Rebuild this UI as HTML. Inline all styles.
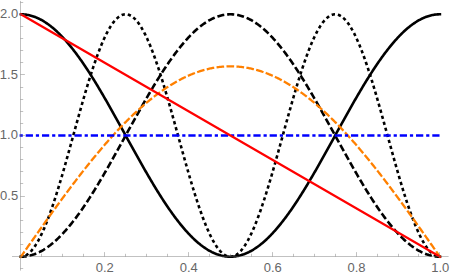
<!DOCTYPE html>
<html><head><meta charset="utf-8"><title>Plot</title>
<style>
html,body{margin:0;padding:0;background:#fff;}
body{width:450px;height:277px;overflow:hidden;}
svg{display:block;}
</style></head><body>
<svg role="img" aria-label="Plot of six curves on the unit interval" width="450" height="277" viewBox="0 0 450 277">
<rect width="450" height="277" fill="#fff"/>
<g fill="#666" font-family="'Liberation Sans', sans-serif" font-size="13">
<text x="95.71" y="271.53">0.2</text>
<text x="179.71" y="271.53">0.4</text>
<text x="263.71" y="271.53">0.6</text>
<text x="347.46" y="271.53">0.8</text>
<text x="431.21" y="271.53">1.0</text>
<text x="0.12" y="199.65">0.5</text>
<text x="-0.18" y="139.05">1.0</text>
<text x="-0.18" y="78.95">1.5</text>
<text x="0.12" y="17.85">2.0</text>
</g>
<path d="M20.90 14.30L21.74 14.31L22.58 14.34L23.41 14.39L24.25 14.45L25.09 14.54L25.93 14.64L26.77 14.77L27.60 14.91L28.44 15.07L29.28 15.26L30.12 15.46L30.96 15.68L31.79 15.91L32.63 16.17L33.47 16.45L34.31 16.74L35.15 17.06L35.98 17.39L36.82 17.74L37.66 18.11L38.50 18.50L39.34 18.90L40.17 19.33L41.01 19.77L41.85 20.23L42.69 20.71L43.53 21.21L44.36 21.73L45.20 22.26L46.04 22.81L46.88 23.38L47.72 23.97L48.55 24.57L49.39 25.20L50.23 25.83L51.07 26.49L51.91 27.17L52.74 27.86L53.58 28.57L54.42 29.29L55.26 30.03L56.10 30.79L56.93 31.57L57.77 32.36L58.61 33.17L59.45 33.99L60.29 34.83L61.12 35.69L61.96 36.56L62.80 37.45L63.64 38.35L64.48 39.27L65.31 40.20L66.15 41.15L66.99 42.11L67.83 43.09L68.67 44.08L69.50 45.09L70.34 46.11L71.18 47.15L72.02 48.20L72.86 49.26L73.69 50.34L74.53 51.43L75.37 52.53L76.21 53.65L77.05 54.78L77.88 55.92L78.72 57.08L79.56 58.24L80.40 59.42L81.24 60.62L82.07 61.82L82.91 63.03L83.75 64.26L84.59 65.50L85.43 66.75L86.26 68.01L87.10 69.28L87.94 70.56L88.78 71.85L89.62 73.15L90.45 74.46L91.29 75.78L92.13 77.11L92.97 78.45L93.81 79.80L94.64 81.16L95.48 82.52L96.32 83.90L97.16 85.28L98.00 86.67L98.83 88.07L99.67 89.47L100.51 90.88L101.35 92.30L102.19 93.73L103.02 95.16L103.86 96.60L104.70 98.05L105.54 99.50L106.38 100.96L107.21 102.42L108.05 103.89L108.89 105.36L109.73 106.84L110.57 108.32L111.40 109.80L112.24 111.30L113.08 112.79L113.92 114.29L114.76 115.79L115.59 117.29L116.43 118.80L117.27 120.31L118.11 121.82L118.95 123.34L119.78 124.85L120.62 126.37L121.46 127.89L122.30 129.41L123.14 130.93L123.97 132.45L124.81 133.98L125.65 135.50L126.49 137.02L127.33 138.55L128.16 140.07L129.00 141.59L129.84 143.11L130.68 144.63L131.52 146.15L132.35 147.66L133.19 149.18L134.03 150.69L134.87 152.20L135.71 153.71L136.54 155.21L137.38 156.71L138.22 158.21L139.06 159.70L139.90 161.20L140.73 162.68L141.57 164.16L142.41 165.64L143.25 167.11L144.09 168.58L144.92 170.04L145.76 171.50L146.60 172.95L147.44 174.40L148.28 175.84L149.11 177.27L149.95 178.70L150.79 180.12L151.63 181.53L152.47 182.93L153.30 184.33L154.14 185.72L154.98 187.10L155.82 188.48L156.66 189.84L157.49 191.20L158.33 192.55L159.17 193.89L160.01 195.22L160.85 196.54L161.68 197.85L162.52 199.15L163.36 200.44L164.20 201.72L165.04 202.99L165.87 204.25L166.71 205.50L167.55 206.74L168.39 207.97L169.23 209.18L170.06 210.38L170.90 211.58L171.74 212.76L172.58 213.92L173.42 215.08L174.25 216.22L175.09 217.35L175.93 218.47L176.77 219.57L177.61 220.66L178.44 221.74L179.28 222.80L180.12 223.85L180.96 224.89L181.80 225.91L182.63 226.92L183.47 227.91L184.31 228.89L185.15 229.85L185.99 230.80L186.82 231.73L187.66 232.65L188.50 233.55L189.34 234.44L190.18 235.31L191.01 236.17L191.85 237.01L192.69 237.83L193.53 238.64L194.37 239.43L195.20 240.21L196.04 240.97L196.88 241.71L197.72 242.43L198.56 243.14L199.39 243.83L200.23 244.51L201.07 245.17L201.91 245.80L202.75 246.43L203.58 247.03L204.42 247.62L205.26 248.19L206.10 248.74L206.94 249.27L207.77 249.79L208.61 250.29L209.45 250.77L210.29 251.23L211.13 251.67L211.96 252.10L212.80 252.50L213.64 252.89L214.48 253.26L215.32 253.61L216.15 253.94L216.99 254.26L217.83 254.55L218.67 254.83L219.51 255.09L220.34 255.32L221.18 255.54L222.02 255.74L222.86 255.93L223.70 256.09L224.53 256.23L225.37 256.36L226.21 256.46L227.05 256.55L227.89 256.61L228.72 256.66L229.56 256.69L230.40 256.70L231.24 256.69L232.08 256.66L232.91 256.61L233.75 256.55L234.59 256.46L235.43 256.36L236.27 256.23L237.10 256.09L237.94 255.93L238.78 255.74L239.62 255.54L240.46 255.32L241.29 255.09L242.13 254.83L242.97 254.55L243.81 254.26L244.65 253.94L245.48 253.61L246.32 253.26L247.16 252.89L248.00 252.50L248.84 252.10L249.67 251.67L250.51 251.23L251.35 250.77L252.19 250.29L253.03 249.79L253.86 249.27L254.70 248.74L255.54 248.19L256.38 247.62L257.22 247.03L258.05 246.43L258.89 245.80L259.73 245.17L260.57 244.51L261.41 243.83L262.24 243.14L263.08 242.43L263.92 241.71L264.76 240.97L265.60 240.21L266.43 239.43L267.27 238.64L268.11 237.83L268.95 237.01L269.79 236.17L270.62 235.31L271.46 234.44L272.30 233.55L273.14 232.65L273.98 231.73L274.81 230.80L275.65 229.85L276.49 228.89L277.33 227.91L278.17 226.92L279.00 225.91L279.84 224.89L280.68 223.85L281.52 222.80L282.36 221.74L283.19 220.66L284.03 219.57L284.87 218.47L285.71 217.35L286.55 216.22L287.38 215.08L288.22 213.92L289.06 212.76L289.90 211.58L290.74 210.38L291.57 209.18L292.41 207.97L293.25 206.74L294.09 205.50L294.93 204.25L295.76 202.99L296.60 201.72L297.44 200.44L298.28 199.15L299.12 197.85L299.95 196.54L300.79 195.22L301.63 193.89L302.47 192.55L303.31 191.20L304.14 189.84L304.98 188.48L305.82 187.10L306.66 185.72L307.50 184.33L308.33 182.93L309.17 181.53L310.01 180.12L310.85 178.70L311.69 177.27L312.52 175.84L313.36 174.40L314.20 172.95L315.04 171.50L315.88 170.04L316.71 168.58L317.55 167.11L318.39 165.64L319.23 164.16L320.07 162.68L320.90 161.20L321.74 159.70L322.58 158.21L323.42 156.71L324.26 155.21L325.09 153.71L325.93 152.20L326.77 150.69L327.61 149.18L328.45 147.66L329.28 146.15L330.12 144.63L330.96 143.11L331.80 141.59L332.64 140.07L333.47 138.55L334.31 137.02L335.15 135.50L335.99 133.98L336.83 132.45L337.66 130.93L338.50 129.41L339.34 127.89L340.18 126.37L341.02 124.85L341.85 123.34L342.69 121.82L343.53 120.31L344.37 118.80L345.21 117.29L346.04 115.79L346.88 114.29L347.72 112.79L348.56 111.30L349.40 109.80L350.23 108.32L351.07 106.84L351.91 105.36L352.75 103.89L353.59 102.42L354.42 100.96L355.26 99.50L356.10 98.05L356.94 96.60L357.78 95.16L358.61 93.73L359.45 92.30L360.29 90.88L361.13 89.47L361.97 88.07L362.80 86.67L363.64 85.28L364.48 83.90L365.32 82.52L366.16 81.16L366.99 79.80L367.83 78.45L368.67 77.11L369.51 75.78L370.35 74.46L371.18 73.15L372.02 71.85L372.86 70.56L373.70 69.28L374.54 68.01L375.37 66.75L376.21 65.50L377.05 64.26L377.89 63.03L378.73 61.82L379.56 60.62L380.40 59.42L381.24 58.24L382.08 57.08L382.92 55.92L383.75 54.78L384.59 53.65L385.43 52.53L386.27 51.43L387.11 50.34L387.94 49.26L388.78 48.20L389.62 47.15L390.46 46.11L391.30 45.09L392.13 44.08L392.97 43.09L393.81 42.11L394.65 41.15L395.49 40.20L396.32 39.27L397.16 38.35L398.00 37.45L398.84 36.56L399.68 35.69L400.51 34.83L401.35 33.99L402.19 33.17L403.03 32.36L403.87 31.57L404.70 30.79L405.54 30.03L406.38 29.29L407.22 28.57L408.06 27.86L408.89 27.17L409.73 26.49L410.57 25.83L411.41 25.20L412.25 24.57L413.08 23.97L413.92 23.38L414.76 22.81L415.60 22.26L416.44 21.73L417.27 21.21L418.11 20.71L418.95 20.23L419.79 19.77L420.63 19.33L421.46 18.90L422.30 18.50L423.14 18.11L423.98 17.74L424.82 17.39L425.65 17.06L426.49 16.74L427.33 16.45L428.17 16.17L429.01 15.91L429.84 15.68L430.68 15.46L431.52 15.26L432.36 15.07L433.20 14.91L434.03 14.77L434.87 14.64L435.71 14.54L436.55 14.45L437.39 14.39L438.22 14.34L439.06 14.31L439.90 14.30" stroke="#000" stroke-width="2.6" fill="none" stroke-linecap="square" stroke-linejoin="round"/>
<path d="M19.60 256.71L20.90 256.70L21.74 256.69L22.58 256.66L23.41 256.61L24.25 256.55L25.09 256.46L25.93 256.36L26.77 256.23L27.60 256.09L28.44 255.93L29.28 255.74L30.12 255.54L30.96 255.32L31.79 255.09L32.63 254.83L33.47 254.55L34.31 254.26L35.15 253.94L35.98 253.61L36.82 253.26L37.66 252.89L38.50 252.50L39.34 252.10L40.17 251.67L41.01 251.23L41.85 250.77L42.69 250.29L43.53 249.79L44.36 249.27L45.20 248.74L46.04 248.19L46.88 247.62L47.72 247.03L48.55 246.43L49.39 245.80L50.23 245.17L51.07 244.51L51.91 243.83L52.74 243.14L53.58 242.43L54.42 241.71L55.26 240.97L56.10 240.21L56.93 239.43L57.77 238.64L58.61 237.83L59.45 237.01L60.29 236.17L61.12 235.31L61.96 234.44L62.80 233.55L63.64 232.65L64.48 231.73L65.31 230.80L66.15 229.85L66.99 228.89L67.83 227.91L68.67 226.92L69.50 225.91L70.34 224.89L71.18 223.85L72.02 222.80L72.86 221.74L73.69 220.66L74.53 219.57L75.37 218.47L76.21 217.35L77.05 216.22L77.88 215.08L78.72 213.92L79.56 212.76L80.40 211.58L81.24 210.38L82.07 209.18L82.91 207.97L83.75 206.74L84.59 205.50L85.43 204.25L86.26 202.99L87.10 201.72L87.94 200.44L88.78 199.15L89.62 197.85L90.45 196.54L91.29 195.22L92.13 193.89L92.97 192.55L93.81 191.20L94.64 189.84L95.48 188.48L96.32 187.10L97.16 185.72L98.00 184.33L98.83 182.93L99.67 181.53L100.51 180.12L101.35 178.70L102.19 177.27L103.02 175.84L103.86 174.40L104.70 172.95L105.54 171.50L106.38 170.04L107.21 168.58L108.05 167.11L108.89 165.64L109.73 164.16L110.57 162.68L111.40 161.20L112.24 159.70L113.08 158.21L113.92 156.71L114.76 155.21L115.59 153.71L116.43 152.20L117.27 150.69L118.11 149.18L118.95 147.66L119.78 146.15L120.62 144.63L121.46 143.11L122.30 141.59L123.14 140.07L123.97 138.55L124.81 137.02L125.65 135.50L126.49 133.98L127.33 132.45L128.16 130.93L129.00 129.41L129.84 127.89L130.68 126.37L131.52 124.85L132.35 123.34L133.19 121.82L134.03 120.31L134.87 118.80L135.71 117.29L136.54 115.79L137.38 114.29L138.22 112.79L139.06 111.30L139.90 109.80L140.73 108.32L141.57 106.84L142.41 105.36L143.25 103.89L144.09 102.42L144.92 100.96L145.76 99.50L146.60 98.05L147.44 96.60L148.28 95.16L149.11 93.73L149.95 92.30L150.79 90.88L151.63 89.47L152.47 88.07L153.30 86.67L154.14 85.28L154.98 83.90L155.82 82.52L156.66 81.16L157.49 79.80L158.33 78.45L159.17 77.11L160.01 75.78L160.85 74.46L161.68 73.15L162.52 71.85L163.36 70.56L164.20 69.28L165.04 68.01L165.87 66.75L166.71 65.50L167.55 64.26L168.39 63.03L169.23 61.82L170.06 60.62L170.90 59.42L171.74 58.24L172.58 57.08L173.42 55.92L174.25 54.78L175.09 53.65L175.93 52.53L176.77 51.43L177.61 50.34L178.44 49.26L179.28 48.20L180.12 47.15L180.96 46.11L181.80 45.09L182.63 44.08L183.47 43.09L184.31 42.11L185.15 41.15L185.99 40.20L186.82 39.27L187.66 38.35L188.50 37.45L189.34 36.56L190.18 35.69L191.01 34.83L191.85 33.99L192.69 33.17L193.53 32.36L194.37 31.57L195.20 30.79L196.04 30.03L196.88 29.29L197.72 28.57L198.56 27.86L199.39 27.17L200.23 26.49L201.07 25.83L201.91 25.20L202.75 24.57L203.58 23.97L204.42 23.38L205.26 22.81L206.10 22.26L206.94 21.73L207.77 21.21L208.61 20.71L209.45 20.23L210.29 19.77L211.13 19.33L211.96 18.90L212.80 18.50L213.64 18.11L214.48 17.74L215.32 17.39L216.15 17.06L216.99 16.74L217.83 16.45L218.67 16.17L219.51 15.91L220.34 15.68L221.18 15.46L222.02 15.26L222.86 15.07L223.70 14.91L224.53 14.77L225.37 14.64L226.21 14.54L227.05 14.45L227.89 14.39L228.72 14.34L229.56 14.31L230.40 14.30L231.24 14.31L232.08 14.34L232.91 14.39L233.75 14.45L234.59 14.54L235.43 14.64L236.27 14.77L237.10 14.91L237.94 15.07L238.78 15.26L239.62 15.46L240.46 15.68L241.29 15.91L242.13 16.17L242.97 16.45L243.81 16.74L244.65 17.06L245.48 17.39L246.32 17.74L247.16 18.11L248.00 18.50L248.84 18.90L249.67 19.33L250.51 19.77L251.35 20.23L252.19 20.71L253.03 21.21L253.86 21.73L254.70 22.26L255.54 22.81L256.38 23.38L257.22 23.97L258.05 24.57L258.89 25.20L259.73 25.83L260.57 26.49L261.41 27.17L262.24 27.86L263.08 28.57L263.92 29.29L264.76 30.03L265.60 30.79L266.43 31.57L267.27 32.36L268.11 33.17L268.95 33.99L269.79 34.83L270.62 35.69L271.46 36.56L272.30 37.45L273.14 38.35L273.98 39.27L274.81 40.20L275.65 41.15L276.49 42.11L277.33 43.09L278.17 44.08L279.00 45.09L279.84 46.11L280.68 47.15L281.52 48.20L282.36 49.26L283.19 50.34L284.03 51.43L284.87 52.53L285.71 53.65L286.55 54.78L287.38 55.92L288.22 57.08L289.06 58.24L289.90 59.42L290.74 60.62L291.57 61.82L292.41 63.03L293.25 64.26L294.09 65.50L294.93 66.75L295.76 68.01L296.60 69.28L297.44 70.56L298.28 71.85L299.12 73.15L299.95 74.46L300.79 75.78L301.63 77.11L302.47 78.45L303.31 79.80L304.14 81.16L304.98 82.52L305.82 83.90L306.66 85.28L307.50 86.67L308.33 88.07L309.17 89.47L310.01 90.88L310.85 92.30L311.69 93.73L312.52 95.16L313.36 96.60L314.20 98.05L315.04 99.50L315.88 100.96L316.71 102.42L317.55 103.89L318.39 105.36L319.23 106.84L320.07 108.32L320.90 109.80L321.74 111.30L322.58 112.79L323.42 114.29L324.26 115.79L325.09 117.29L325.93 118.80L326.77 120.31L327.61 121.82L328.45 123.34L329.28 124.85L330.12 126.37L330.96 127.89L331.80 129.41L332.64 130.93L333.47 132.45L334.31 133.98L335.15 135.50L335.99 137.02L336.83 138.55L337.66 140.07L338.50 141.59L339.34 143.11L340.18 144.63L341.02 146.15L341.85 147.66L342.69 149.18L343.53 150.69L344.37 152.20L345.21 153.71L346.04 155.21L346.88 156.71L347.72 158.21L348.56 159.70L349.40 161.20L350.23 162.68L351.07 164.16L351.91 165.64L352.75 167.11L353.59 168.58L354.42 170.04L355.26 171.50L356.10 172.95L356.94 174.40L357.78 175.84L358.61 177.27L359.45 178.70L360.29 180.12L361.13 181.53L361.97 182.93L362.80 184.33L363.64 185.72L364.48 187.10L365.32 188.48L366.16 189.84L366.99 191.20L367.83 192.55L368.67 193.89L369.51 195.22L370.35 196.54L371.18 197.85L372.02 199.15L372.86 200.44L373.70 201.72L374.54 202.99L375.37 204.25L376.21 205.50L377.05 206.74L377.89 207.97L378.73 209.18L379.56 210.38L380.40 211.58L381.24 212.76L382.08 213.92L382.92 215.08L383.75 216.22L384.59 217.35L385.43 218.47L386.27 219.57L387.11 220.66L387.94 221.74L388.78 222.80L389.62 223.85L390.46 224.89L391.30 225.91L392.13 226.92L392.97 227.91L393.81 228.89L394.65 229.85L395.49 230.80L396.32 231.73L397.16 232.65L398.00 233.55L398.84 234.44L399.68 235.31L400.51 236.17L401.35 237.01L402.19 237.83L403.03 238.64L403.87 239.43L404.70 240.21L405.54 240.97L406.38 241.71L407.22 242.43L408.06 243.14L408.89 243.83L409.73 244.51L410.57 245.17L411.41 245.80L412.25 246.43L413.08 247.03L413.92 247.62L414.76 248.19L415.60 248.74L416.44 249.27L417.27 249.79L418.11 250.29L418.95 250.77L419.79 251.23L420.63 251.67L421.46 252.10L422.30 252.50L423.14 252.89L423.98 253.26L424.82 253.61L425.65 253.94L426.49 254.26L427.33 254.55L428.17 254.83L429.01 255.09L429.84 255.32L430.68 255.54L431.52 255.74L432.36 255.93L433.20 256.09L434.03 256.23L434.87 256.36L435.71 256.46L436.55 256.55L437.39 256.61L438.22 256.66L439.06 256.69L439.90 256.70L441.20 256.71" stroke="#000" stroke-width="2.6" fill="none" stroke-dasharray="7.1 2.9"/>
<path d="M19.60 256.74L20.90 256.70L21.42 256.69L21.95 256.64L22.47 256.57L22.99 256.46L23.52 256.33L24.04 256.16L24.57 255.97L25.09 255.74L25.61 255.49L26.14 255.21L26.66 254.90L27.18 254.55L27.71 254.18L28.23 253.78L28.76 253.35L29.28 252.89L29.80 252.40L30.33 251.89L30.85 251.34L31.38 250.77L31.90 250.17L32.42 249.53L32.95 248.88L33.47 248.19L33.99 247.47L34.52 246.73L35.04 245.96L35.56 245.17L36.09 244.34L36.61 243.49L37.14 242.61L37.66 241.71L38.18 240.78L38.71 239.82L39.23 238.84L39.75 237.83L40.28 236.80L40.80 235.74L41.33 234.66L41.85 233.55L42.37 232.42L42.90 231.27L43.42 230.09L43.95 228.89L44.47 227.66L44.99 226.41L45.52 225.14L46.04 223.85L46.56 222.54L47.09 221.20L47.61 219.84L48.13 218.47L48.66 217.07L49.18 215.65L49.71 214.21L50.23 212.76L50.75 211.28L51.28 209.78L51.80 208.27L52.32 206.74L52.85 205.19L53.37 203.62L53.90 202.04L54.42 200.44L54.94 198.83L55.47 197.20L55.99 195.55L56.52 193.89L57.04 192.21L57.56 190.52L58.09 188.82L58.61 187.10L59.13 185.38L59.66 183.63L60.18 181.88L60.70 180.12L61.23 178.34L61.75 176.56L62.28 174.76L62.80 172.95L63.32 171.14L63.85 169.31L64.37 167.48L64.89 165.64L65.42 163.79L65.94 161.94L66.47 160.08L66.99 158.21L67.51 156.34L68.04 154.46L68.56 152.58L69.09 150.69L69.61 148.80L70.13 146.91L70.66 145.01L71.18 143.11L71.70 141.21L72.23 139.31L72.75 137.40L73.28 135.50L73.80 133.60L74.32 131.69L74.85 129.79L75.37 127.89L75.89 125.99L76.42 124.09L76.94 122.20L77.47 120.31L77.99 118.42L78.51 116.54L79.04 114.66L79.56 112.79L80.08 110.92L80.61 109.06L81.13 107.21L81.66 105.36L82.18 103.52L82.70 101.69L83.23 99.86L83.75 98.05L84.27 96.24L84.80 94.44L85.32 92.66L85.84 90.88L86.37 89.12L86.89 87.37L87.42 85.62L87.94 83.90L88.46 82.18L88.99 80.48L89.51 78.79L90.03 77.11L90.56 75.45L91.08 73.80L91.61 72.17L92.13 70.56L92.65 68.96L93.18 67.38L93.70 65.81L94.22 64.26L94.75 62.73L95.27 61.22L95.80 59.72L96.32 58.24L96.84 56.79L97.37 55.35L97.89 53.93L98.41 52.53L98.94 51.16L99.46 49.80L99.99 48.46L100.51 47.15L101.03 45.86L101.56 44.59L102.08 43.34L102.60 42.11L103.13 40.91L103.65 39.73L104.18 38.58L104.70 37.45L105.22 36.34L105.75 35.26L106.27 34.20L106.79 33.17L107.32 32.16L107.84 31.18L108.37 30.22L108.89 29.29L109.41 28.39L109.94 27.51L110.46 26.66L110.98 25.83L111.51 25.04L112.03 24.27L112.56 23.53L113.08 22.81L113.60 22.12L114.13 21.47L114.65 20.83L115.18 20.23L115.70 19.66L116.22 19.11L116.75 18.60L117.27 18.11L117.79 17.65L118.32 17.22L118.84 16.82L119.36 16.45L119.89 16.10L120.41 15.79L120.94 15.51L121.46 15.26L121.98 15.03L122.51 14.84L123.03 14.67L123.56 14.54L124.08 14.43L124.60 14.36L125.13 14.31L125.65 14.30L126.17 14.31L126.70 14.36L127.22 14.43L127.75 14.54L128.27 14.67L128.79 14.84L129.32 15.03L129.84 15.26L130.36 15.51L130.89 15.79L131.41 16.10L131.94 16.45L132.46 16.82L132.98 17.22L133.51 17.65L134.03 18.11L134.55 18.60L135.08 19.11L135.60 19.66L136.12 20.23L136.65 20.83L137.17 21.47L137.70 22.12L138.22 22.81L138.74 23.53L139.27 24.27L139.79 25.04L140.31 25.83L140.84 26.66L141.36 27.51L141.89 28.39L142.41 29.29L142.93 30.22L143.46 31.18L143.98 32.16L144.50 33.17L145.03 34.20L145.55 35.26L146.08 36.34L146.60 37.45L147.12 38.58L147.65 39.73L148.17 40.91L148.69 42.11L149.22 43.34L149.74 44.59L150.27 45.86L150.79 47.15L151.31 48.46L151.84 49.80L152.36 51.16L152.89 52.53L153.41 53.93L153.93 55.35L154.46 56.79L154.98 58.24L155.50 59.72L156.03 61.22L156.55 62.73L157.08 64.26L157.60 65.81L158.12 67.38L158.65 68.96L159.17 70.56L159.69 72.17L160.22 73.80L160.74 75.45L161.27 77.11L161.79 78.79L162.31 80.48L162.84 82.18L163.36 83.90L163.88 85.62L164.41 87.37L164.93 89.12L165.45 90.88L165.98 92.66L166.50 94.44L167.03 96.24L167.55 98.05L168.07 99.86L168.60 101.69L169.12 103.52L169.65 105.36L170.17 107.21L170.69 109.06L171.22 110.92L171.74 112.79L172.26 114.66L172.79 116.54L173.31 118.42L173.84 120.31L174.36 122.20L174.88 124.09L175.41 125.99L175.93 127.89L176.45 129.79L176.98 131.69L177.50 133.60L178.03 135.50L178.55 137.40L179.07 139.31L179.60 141.21L180.12 143.11L180.64 145.01L181.17 146.91L181.69 148.80L182.22 150.69L182.74 152.58L183.26 154.46L183.79 156.34L184.31 158.21L184.83 160.08L185.36 161.94L185.88 163.79L186.41 165.64L186.93 167.48L187.45 169.31L187.98 171.14L188.50 172.95L189.02 174.76L189.55 176.56L190.07 178.34L190.60 180.12L191.12 181.88L191.64 183.63L192.17 185.38L192.69 187.10L193.21 188.82L193.74 190.52L194.26 192.21L194.78 193.89L195.31 195.55L195.83 197.20L196.36 198.83L196.88 200.44L197.40 202.04L197.93 203.62L198.45 205.19L198.97 206.74L199.50 208.27L200.02 209.78L200.55 211.28L201.07 212.76L201.59 214.21L202.12 215.65L202.64 217.07L203.16 218.47L203.69 219.84L204.21 221.20L204.74 222.54L205.26 223.85L205.78 225.14L206.31 226.41L206.83 227.66L207.36 228.89L207.88 230.09L208.40 231.27L208.93 232.42L209.45 233.55L209.97 234.66L210.50 235.74L211.02 236.80L211.55 237.83L212.07 238.84L212.59 239.82L213.12 240.78L213.64 241.71L214.16 242.61L214.69 243.49L215.21 244.34L215.74 245.17L216.26 245.96L216.78 246.73L217.31 247.47L217.83 248.19L218.35 248.88L218.88 249.53L219.40 250.17L219.92 250.77L220.45 251.34L220.97 251.89L221.50 252.40L222.02 252.89L222.54 253.35L223.07 253.78L223.59 254.18L224.12 254.55L224.64 254.90L225.16 255.21L225.69 255.49L226.21 255.74L226.73 255.97L227.26 256.16L227.78 256.33L228.31 256.46L228.83 256.57L229.35 256.64L229.88 256.69L230.40 256.70L230.92 256.69L231.45 256.64L231.97 256.57L232.50 256.46L233.02 256.33L233.54 256.16L234.07 255.97L234.59 255.74L235.11 255.49L235.64 255.21L236.16 254.90L236.69 254.55L237.21 254.18L237.73 253.78L238.26 253.35L238.78 252.89L239.30 252.40L239.83 251.89L240.35 251.34L240.88 250.77L241.40 250.17L241.92 249.53L242.45 248.88L242.97 248.19L243.49 247.47L244.02 246.73L244.54 245.96L245.07 245.17L245.59 244.34L246.11 243.49L246.64 242.61L247.16 241.71L247.68 240.78L248.21 239.82L248.73 238.84L249.26 237.83L249.78 236.80L250.30 235.74L250.83 234.66L251.35 233.55L251.87 232.42L252.40 231.27L252.92 230.09L253.45 228.89L253.97 227.66L254.49 226.41L255.02 225.14L255.54 223.85L256.06 222.54L256.59 221.20L257.11 219.84L257.63 218.47L258.16 217.07L258.68 215.65L259.21 214.21L259.73 212.76L260.25 211.28L260.78 209.78L261.30 208.27L261.82 206.74L262.35 205.19L262.87 203.62L263.40 202.04L263.92 200.44L264.44 198.83L264.97 197.20L265.49 195.55L266.01 193.89L266.54 192.21L267.06 190.52L267.59 188.82L268.11 187.10L268.63 185.38L269.16 183.63L269.68 181.88L270.20 180.12L270.73 178.34L271.25 176.56L271.78 174.76L272.30 172.95L272.82 171.14L273.35 169.31L273.87 167.48L274.39 165.64L274.92 163.79L275.44 161.94L275.97 160.08L276.49 158.21L277.01 156.34L277.54 154.46L278.06 152.58L278.58 150.69L279.11 148.80L279.63 146.91L280.16 145.01L280.68 143.11L281.20 141.21L281.73 139.31L282.25 137.40L282.77 135.50L283.30 133.60L283.82 131.69L284.35 129.79L284.87 127.89L285.39 125.99L285.92 124.09L286.44 122.20L286.96 120.31L287.49 118.42L288.01 116.54L288.54 114.66L289.06 112.79L289.58 110.92L290.11 109.06L290.63 107.21L291.15 105.36L291.68 103.52L292.20 101.69L292.73 99.86L293.25 98.05L293.77 96.24L294.30 94.44L294.82 92.66L295.34 90.88L295.87 89.12L296.39 87.37L296.92 85.62L297.44 83.90L297.96 82.18L298.49 80.48L299.01 78.79L299.53 77.11L300.06 75.45L300.58 73.80L301.11 72.17L301.63 70.56L302.15 68.96L302.68 67.38L303.20 65.81L303.73 64.26L304.25 62.73L304.77 61.22L305.30 59.72L305.82 58.24L306.34 56.79L306.87 55.35L307.39 53.93L307.92 52.53L308.44 51.16L308.96 49.80L309.49 48.46L310.01 47.15L310.53 45.86L311.06 44.59L311.58 43.34L312.10 42.11L312.63 40.91L313.15 39.73L313.68 38.58L314.20 37.45L314.72 36.34L315.25 35.26L315.77 34.20L316.29 33.17L316.82 32.16L317.34 31.18L317.87 30.22L318.39 29.29L318.91 28.39L319.44 27.51L319.96 26.66L320.48 25.83L321.01 25.04L321.53 24.27L322.06 23.53L322.58 22.81L323.10 22.12L323.63 21.47L324.15 20.83L324.67 20.23L325.20 19.66L325.72 19.11L326.25 18.60L326.77 18.11L327.29 17.65L327.82 17.22L328.34 16.82L328.86 16.45L329.39 16.10L329.91 15.79L330.44 15.51L330.96 15.26L331.48 15.03L332.01 14.84L332.53 14.67L333.05 14.54L333.58 14.43L334.10 14.36L334.63 14.31L335.15 14.30L335.67 14.31L336.20 14.36L336.72 14.43L337.25 14.54L337.77 14.67L338.29 14.84L338.82 15.03L339.34 15.26L339.86 15.51L340.39 15.79L340.91 16.10L341.44 16.45L341.96 16.82L342.48 17.22L343.01 17.65L343.53 18.11L344.05 18.60L344.58 19.11L345.10 19.66L345.62 20.23L346.15 20.83L346.67 21.47L347.20 22.12L347.72 22.81L348.24 23.53L348.77 24.27L349.29 25.04L349.81 25.83L350.34 26.66L350.86 27.51L351.39 28.39L351.91 29.29L352.43 30.22L352.96 31.18L353.48 32.16L354.00 33.17L354.53 34.20L355.05 35.26L355.58 36.34L356.10 37.45L356.62 38.58L357.15 39.73L357.67 40.91L358.19 42.11L358.72 43.34L359.24 44.59L359.77 45.86L360.29 47.15L360.81 48.46L361.34 49.80L361.86 51.16L362.38 52.53L362.91 53.93L363.43 55.35L363.96 56.79L364.48 58.24L365.00 59.72L365.53 61.22L366.05 62.73L366.57 64.26L367.10 65.81L367.62 67.38L368.15 68.96L368.67 70.56L369.19 72.17L369.72 73.80L370.24 75.45L370.76 77.11L371.29 78.79L371.81 80.48L372.34 82.18L372.86 83.90L373.38 85.62L373.91 87.37L374.43 89.12L374.95 90.88L375.48 92.66L376.00 94.44L376.53 96.24L377.05 98.05L377.57 99.86L378.10 101.69L378.62 103.52L379.14 105.36L379.67 107.21L380.19 109.06L380.72 110.92L381.24 112.79L381.76 114.66L382.29 116.54L382.81 118.42L383.33 120.31L383.86 122.20L384.38 124.09L384.91 125.99L385.43 127.89L385.95 129.79L386.48 131.69L387.00 133.60L387.52 135.50L388.05 137.40L388.57 139.31L389.10 141.21L389.62 143.11L390.14 145.01L390.67 146.91L391.19 148.80L391.71 150.69L392.24 152.58L392.76 154.46L393.29 156.34L393.81 158.21L394.33 160.08L394.86 161.94L395.38 163.79L395.90 165.64L396.43 167.48L396.95 169.31L397.48 171.14L398.00 172.95L398.52 174.76L399.05 176.56L399.57 178.34L400.09 180.12L400.62 181.88L401.14 183.63L401.67 185.38L402.19 187.10L402.71 188.82L403.24 190.52L403.76 192.21L404.28 193.89L404.81 195.55L405.33 197.20L405.86 198.83L406.38 200.44L406.90 202.04L407.43 203.62L407.95 205.19L408.48 206.74L409.00 208.27L409.52 209.78L410.05 211.28L410.57 212.76L411.09 214.21L411.62 215.65L412.14 217.07L412.67 218.47L413.19 219.84L413.71 221.20L414.24 222.54L414.76 223.85L415.28 225.14L415.81 226.41L416.33 227.66L416.85 228.89L417.38 230.09L417.90 231.27L418.43 232.42L418.95 233.55L419.47 234.66L420.00 235.74L420.52 236.80L421.04 237.83L421.57 238.84L422.09 239.82L422.62 240.78L423.14 241.71L423.66 242.61L424.19 243.49L424.71 244.34L425.23 245.17L425.76 245.96L426.28 246.73L426.81 247.47L427.33 248.19L427.85 248.88L428.38 249.53L428.90 250.17L429.42 250.77L429.95 251.34L430.47 251.89L431.00 252.40L431.52 252.89L432.04 253.35L432.57 253.78L433.09 254.18L433.61 254.55L434.14 254.90L434.66 255.21L435.19 255.49L435.71 255.74L436.23 255.97L436.76 256.16L437.28 256.33L437.80 256.46L438.33 256.57L438.85 256.64L439.38 256.69L439.90 256.70L441.20 256.74" stroke="#000" stroke-width="2.6" fill="none" stroke-dasharray="3.3 2.9458"/>
<path d="M20.15 257.76L20.90 256.70L21.74 255.50L22.58 254.31L23.41 253.11L24.25 251.92L25.09 250.72L25.93 249.52L26.77 248.33L27.60 247.13L28.44 245.94L29.28 244.75L30.12 243.55L30.96 242.36L31.79 241.17L32.63 239.97L33.47 238.78L34.31 237.59L35.15 236.40L35.98 235.21L36.82 234.03L37.66 232.84L38.50 231.65L39.34 230.47L40.17 229.28L41.01 228.10L41.85 226.92L42.69 225.74L43.53 224.56L44.36 223.38L45.20 222.20L46.04 221.03L46.88 219.85L47.72 218.68L48.55 217.51L49.39 216.34L50.23 215.17L51.07 214.00L51.91 212.84L52.74 211.68L53.58 210.51L54.42 209.35L55.26 208.20L56.10 207.04L56.93 205.89L57.77 204.74L58.61 203.59L59.45 202.44L60.29 201.29L61.12 200.15L61.96 199.01L62.80 197.87L63.64 196.73L64.48 195.60L65.31 194.47L66.15 193.34L66.99 192.21L67.83 191.09L68.67 189.97L69.50 188.85L70.34 187.73L71.18 186.62L72.02 185.51L72.86 184.40L73.69 183.29L74.53 182.19L75.37 181.09L76.21 179.99L77.05 178.90L77.88 177.81L78.72 176.72L79.56 175.64L80.40 174.56L81.24 173.48L82.07 172.41L82.91 171.34L83.75 170.27L84.59 169.20L85.43 168.14L86.26 167.09L87.10 166.03L87.94 164.98L88.78 163.94L89.62 162.89L90.45 161.86L91.29 160.82L92.13 159.79L92.97 158.76L93.81 157.74L94.64 156.72L95.48 155.70L96.32 154.69L97.16 153.68L98.00 152.68L98.83 151.68L99.67 150.68L100.51 149.69L101.35 148.70L102.19 147.72L103.02 146.74L103.86 145.77L104.70 144.80L105.54 143.83L106.38 142.87L107.21 141.91L108.05 140.96L108.89 140.01L109.73 139.07L110.57 138.13L111.40 137.20L112.24 136.27L113.08 135.35L113.92 134.43L114.76 133.51L115.59 132.60L116.43 131.70L117.27 130.80L118.11 129.90L118.95 129.01L119.78 128.13L120.62 127.25L121.46 126.38L122.30 125.51L123.14 124.64L123.97 123.78L124.81 122.93L125.65 122.08L126.49 121.24L127.33 120.40L128.16 119.57L129.00 118.74L129.84 117.92L130.68 117.10L131.52 116.29L132.35 115.49L133.19 114.69L134.03 113.89L134.87 113.11L135.71 112.32L136.54 111.55L137.38 110.77L138.22 110.01L139.06 109.25L139.90 108.50L140.73 107.75L141.57 107.01L142.41 106.27L143.25 105.54L144.09 104.82L144.92 104.10L145.76 103.39L146.60 102.68L147.44 101.98L148.28 101.28L149.11 100.60L149.95 99.92L150.79 99.24L151.63 98.57L152.47 97.91L153.30 97.25L154.14 96.60L154.98 95.96L155.82 95.32L156.66 94.69L157.49 94.06L158.33 93.44L159.17 92.83L160.01 92.23L160.85 91.63L161.68 91.03L162.52 90.45L163.36 89.87L164.20 89.30L165.04 88.73L165.87 88.17L166.71 87.62L167.55 87.07L168.39 86.53L169.23 86.00L170.06 85.47L170.90 84.95L171.74 84.44L172.58 83.93L173.42 83.43L174.25 82.94L175.09 82.46L175.93 81.98L176.77 81.51L177.61 81.04L178.44 80.58L179.28 80.13L180.12 79.69L180.96 79.25L181.80 78.82L182.63 78.40L183.47 77.98L184.31 77.57L185.15 77.17L185.99 76.78L186.82 76.39L187.66 76.01L188.50 75.64L189.34 75.27L190.18 74.91L191.01 74.56L191.85 74.22L192.69 73.88L193.53 73.55L194.37 73.23L195.20 72.91L196.04 72.60L196.88 72.30L197.72 72.01L198.56 71.72L199.39 71.44L200.23 71.17L201.07 70.90L201.91 70.65L202.75 70.40L203.58 70.15L204.42 69.92L205.26 69.69L206.10 69.47L206.94 69.26L207.77 69.05L208.61 68.85L209.45 68.66L210.29 68.48L211.13 68.30L211.96 68.14L212.80 67.97L213.64 67.82L214.48 67.67L215.32 67.54L216.15 67.40L216.99 67.28L217.83 67.16L218.67 67.06L219.51 66.95L220.34 66.86L221.18 66.77L222.02 66.70L222.86 66.62L223.70 66.56L224.53 66.50L225.37 66.45L226.21 66.41L227.05 66.38L227.89 66.35L228.72 66.33L229.56 66.32L230.40 66.32L231.24 66.32L232.08 66.33L232.91 66.35L233.75 66.38L234.59 66.41L235.43 66.45L236.27 66.50L237.10 66.56L237.94 66.62L238.78 66.70L239.62 66.77L240.46 66.86L241.29 66.95L242.13 67.06L242.97 67.16L243.81 67.28L244.65 67.40L245.48 67.54L246.32 67.67L247.16 67.82L248.00 67.97L248.84 68.14L249.67 68.30L250.51 68.48L251.35 68.66L252.19 68.85L253.03 69.05L253.86 69.26L254.70 69.47L255.54 69.69L256.38 69.92L257.22 70.15L258.05 70.40L258.89 70.65L259.73 70.90L260.57 71.17L261.41 71.44L262.24 71.72L263.08 72.01L263.92 72.30L264.76 72.60L265.60 72.91L266.43 73.23L267.27 73.55L268.11 73.88L268.95 74.22L269.79 74.56L270.62 74.91L271.46 75.27L272.30 75.64L273.14 76.01L273.98 76.39L274.81 76.78L275.65 77.17L276.49 77.57L277.33 77.98L278.17 78.40L279.00 78.82L279.84 79.25L280.68 79.69L281.52 80.13L282.36 80.58L283.19 81.04L284.03 81.51L284.87 81.98L285.71 82.46L286.55 82.94L287.38 83.43L288.22 83.93L289.06 84.44L289.90 84.95L290.74 85.47L291.57 86.00L292.41 86.53L293.25 87.07L294.09 87.62L294.93 88.17L295.76 88.73L296.60 89.30L297.44 89.87L298.28 90.45L299.12 91.03L299.95 91.63L300.79 92.23L301.63 92.83L302.47 93.44L303.31 94.06L304.14 94.69L304.98 95.32L305.82 95.96L306.66 96.60L307.50 97.25L308.33 97.91L309.17 98.57L310.01 99.24L310.85 99.92L311.69 100.60L312.52 101.28L313.36 101.98L314.20 102.68L315.04 103.39L315.88 104.10L316.71 104.82L317.55 105.54L318.39 106.27L319.23 107.01L320.07 107.75L320.90 108.50L321.74 109.25L322.58 110.01L323.42 110.77L324.26 111.55L325.09 112.32L325.93 113.11L326.77 113.89L327.61 114.69L328.45 115.49L329.28 116.29L330.12 117.10L330.96 117.92L331.80 118.74L332.64 119.57L333.47 120.40L334.31 121.24L335.15 122.08L335.99 122.93L336.83 123.78L337.66 124.64L338.50 125.51L339.34 126.38L340.18 127.25L341.02 128.13L341.85 129.01L342.69 129.90L343.53 130.80L344.37 131.70L345.21 132.60L346.04 133.51L346.88 134.43L347.72 135.35L348.56 136.27L349.40 137.20L350.23 138.13L351.07 139.07L351.91 140.01L352.75 140.96L353.59 141.91L354.42 142.87L355.26 143.83L356.10 144.80L356.94 145.77L357.78 146.74L358.61 147.72L359.45 148.70L360.29 149.69L361.13 150.68L361.97 151.68L362.80 152.68L363.64 153.68L364.48 154.69L365.32 155.70L366.16 156.72L366.99 157.74L367.83 158.76L368.67 159.79L369.51 160.82L370.35 161.86L371.18 162.89L372.02 163.94L372.86 164.98L373.70 166.03L374.54 167.09L375.37 168.14L376.21 169.20L377.05 170.27L377.89 171.34L378.73 172.41L379.56 173.48L380.40 174.56L381.24 175.64L382.08 176.72L382.92 177.81L383.75 178.90L384.59 179.99L385.43 181.09L386.27 182.19L387.11 183.29L387.94 184.40L388.78 185.51L389.62 186.62L390.46 187.73L391.30 188.85L392.13 189.97L392.97 191.09L393.81 192.21L394.65 193.34L395.49 194.47L396.32 195.60L397.16 196.73L398.00 197.87L398.84 199.01L399.68 200.15L400.51 201.29L401.35 202.44L402.19 203.59L403.03 204.74L403.87 205.89L404.70 207.04L405.54 208.20L406.38 209.35L407.22 210.51L408.06 211.68L408.89 212.84L409.73 214.00L410.57 215.17L411.41 216.34L412.25 217.51L413.08 218.68L413.92 219.85L414.76 221.03L415.60 222.20L416.44 223.38L417.27 224.56L418.11 225.74L418.95 226.92L419.79 228.10L420.63 229.28L421.46 230.47L422.30 231.65L423.14 232.84L423.98 234.03L424.82 235.21L425.65 236.40L426.49 237.59L427.33 238.78L428.17 239.97L429.01 241.17L429.84 242.36L430.68 243.55L431.52 244.75L432.36 245.94L433.20 247.13L434.03 248.33L434.87 249.52L435.71 250.72L436.55 251.92L437.39 253.11L438.22 254.31L439.06 255.50L439.90 256.70L440.59 257.68" stroke="#ff8000" stroke-width="2.3" fill="none" stroke-dasharray="7.65 2.35"/>
<path d="M19.60 135.50L441.20 135.50" stroke="#0000ff" stroke-width="2.6" fill="none" stroke-dasharray="3.2 2.9065 7.25 2.9065"/>
<path d="M20.90 14.30L439.90 256.70" stroke="#ff0000" stroke-width="2.15" fill="none" stroke-linecap="square"/>
<g stroke="#666" stroke-width="0.41" fill="none">
<line x1="12.0" y1="256.5" x2="448.6" y2="256.5"/>
<line x1="20.5" y1="0.9" x2="20.5" y2="270.6"/>
<line x1="41.5" y1="256.5" x2="41.5" y2="253.8"/>
<line x1="62.5" y1="256.5" x2="62.5" y2="253.8"/>
<line x1="83.5" y1="256.5" x2="83.5" y2="253.8"/>
<line x1="104.5" y1="256.5" x2="104.5" y2="252.1"/>
<line x1="125.5" y1="256.5" x2="125.5" y2="253.8"/>
<line x1="146.5" y1="256.5" x2="146.5" y2="253.8"/>
<line x1="167.5" y1="256.5" x2="167.5" y2="253.8"/>
<line x1="188.5" y1="256.5" x2="188.5" y2="252.1"/>
<line x1="209.5" y1="256.5" x2="209.5" y2="253.8"/>
<line x1="230.5" y1="256.5" x2="230.5" y2="253.8"/>
<line x1="251.5" y1="256.5" x2="251.5" y2="253.8"/>
<line x1="272.5" y1="256.5" x2="272.5" y2="252.1"/>
<line x1="293.5" y1="256.5" x2="293.5" y2="253.8"/>
<line x1="314.5" y1="256.5" x2="314.5" y2="253.8"/>
<line x1="335.5" y1="256.5" x2="335.5" y2="253.8"/>
<line x1="356.5" y1="256.5" x2="356.5" y2="252.1"/>
<line x1="377.5" y1="256.5" x2="377.5" y2="253.8"/>
<line x1="398.5" y1="256.5" x2="398.5" y2="253.8"/>
<line x1="418.5" y1="256.5" x2="418.5" y2="253.8"/>
<line x1="439.5" y1="256.5" x2="439.5" y2="252.1"/>
<line x1="20.5" y1="268.5" x2="23.2" y2="268.5"/>
<line x1="20.5" y1="244.5" x2="23.2" y2="244.5"/>
<line x1="20.5" y1="232.5" x2="23.2" y2="232.5"/>
<line x1="20.5" y1="220.5" x2="23.2" y2="220.5"/>
<line x1="20.5" y1="208.5" x2="23.2" y2="208.5"/>
<line x1="20.5" y1="196.5" x2="24.9" y2="196.5"/>
<line x1="20.5" y1="183.5" x2="23.2" y2="183.5"/>
<line x1="20.5" y1="171.5" x2="23.2" y2="171.5"/>
<line x1="20.5" y1="159.5" x2="23.2" y2="159.5"/>
<line x1="20.5" y1="147.5" x2="23.2" y2="147.5"/>
<line x1="20.5" y1="135.5" x2="24.9" y2="135.5"/>
<line x1="20.5" y1="123.5" x2="23.2" y2="123.5"/>
<line x1="20.5" y1="111.5" x2="23.2" y2="111.5"/>
<line x1="20.5" y1="99.5" x2="23.2" y2="99.5"/>
<line x1="20.5" y1="87.5" x2="23.2" y2="87.5"/>
<line x1="20.5" y1="74.5" x2="24.9" y2="74.5"/>
<line x1="20.5" y1="62.5" x2="23.2" y2="62.5"/>
<line x1="20.5" y1="50.5" x2="23.2" y2="50.5"/>
<line x1="20.5" y1="38.5" x2="23.2" y2="38.5"/>
<line x1="20.5" y1="26.5" x2="23.2" y2="26.5"/>
<line x1="20.5" y1="14.5" x2="24.9" y2="14.5"/>
<line x1="20.5" y1="2.5" x2="23.2" y2="2.5"/>
</g>
</svg>
</body></html>
